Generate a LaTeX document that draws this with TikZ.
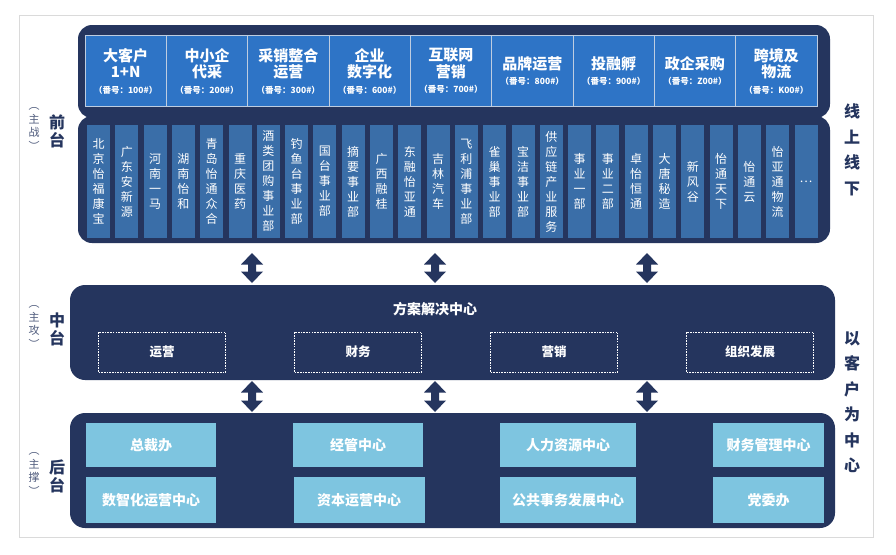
\documentclass[tikz,border=0pt]{standalone}
\usepackage{fontspec}
\setmainfont{Noto Sans CJK SC}
\definecolor{navy}{RGB}{37,53,94}
\definecolor{hdrblue}{RGB}{46,116,198}
\definecolor{colblue}{RGB}{58,110,168}
\definecolor{ltblue}{RGB}{126,197,224}
\definecolor{framegray}{RGB}{218,218,218}
\definecolor{cellline}{RGB}{190,205,225}
\newcommand\subfont{\fontsize{8.5}{10}\selectfont\bfseries}
\begin{document}
\begin{tikzpicture}[x=1pt,y=-1pt,
  panel/.style={draw=none,fill=navy,rounded corners=14pt,inner sep=0pt},
  hdrcell/.style={draw=cellline,line width=0.8pt,fill=hdrblue,minimum width=81.33pt,minimum height=71pt,inner sep=0pt,align=center,text=white,font=\fontsize{15}{16.5}\selectfont\bfseries},
  colbox/.style={fill=colblue,minimum width=23pt,minimum height=113pt,inner sep=0pt,align=center,text=white,font=\fontsize{12}{15}\selectfont},
  dashbox/.style={draw=white,line width=0.9pt,dash pattern=on 1.6pt off 1.1pt,minimum width=127pt,minimum height=40pt,inner sep=0pt,text=white,font=\fontsize{12.5}{14}\selectfont\bfseries},
  backbox/.style={fill=ltblue,inner sep=0pt,text=white,font=\fontsize{14}{16}\selectfont\bfseries},
  sidelabel/.style={text=navy,align=center,inner sep=0pt,font=\fontsize{16}{18}\selectfont\bfseries},
  sidesub/.style={text=navy!80,align=center,inner sep=0pt,font=\fontsize{11}{13.5}\selectfont},
  rightlabel/.style={text=navy,align=center,inner sep=0pt,font=\fontsize{16}{25.5}\selectfont\bfseries}
]
\useasboundingbox (0,0) rectangle (896,554);
\fill[white] (0,0) rectangle (896,554);
\draw[framegray,line width=0.8pt] (19,15) rectangle (873,537);

% ---------- front stage panels ----------
\node[panel,minimum width=752pt,minimum height=93pt] (toppanel) at (454,71.5) {};
\node[panel,minimum width=752pt,minimum height=127pt] (colpanel) at (454,179.5) {};

% header cells
\foreach \t/\s [count=\i from 0] in {
  {大客户\\1+N}/100\#,
  {中小企\\代采}/200\#,
  {采销整合\\运营}/300\#,
  {企业\\数字化}/600\#,
  {互联网\\营销}/700\#,
  {品牌运营}/800\#,
  {投融孵}/900\#,
  {政企采购}/Z00\#,
  {跨境及\\物流}/K00\#}
{
  \node[hdrcell] (h\i) at ({85+81.33*\i+40.67},71) {\t\\[-1pt]{\subfont （番号：\s）}};
}

% columns
\foreach \t [count=\i from 0] in {
  {北\\京\\怡\\福\\康\\宝},
  {广\\东\\安\\新\\源},
  {河\\南\\一\\马},
  {湖\\南\\怡\\和},
  {青\\岛\\怡\\通\\众\\合},
  {重\\庆\\医\\药},
  {酒\\类\\团\\购\\事\\业\\部},
  {钓\\鱼\\台\\事\\业\\部},
  {国\\台\\事\\业\\部},
  {摘\\要\\事\\业\\部},
  {广\\西\\融\\桂},
  {东\\融\\怡\\亚\\通},
  {吉\\林\\汽\\车},
  {飞\\利\\浦\\事\\业\\部},
  {雀\\巢\\事\\业\\部},
  {宝\\洁\\事\\业\\部},
  {供\\应\\链\\产\\业\\服\\务},
  {事\\业\\一\\部},
  {事\\业\\二\\部},
  {卓\\怡\\恒\\通},
  {大\\唐\\秘\\造},
  {新\\风\\谷},
  {怡\\通\\天\\下},
  {怡\\通\\云},
  {怡\\亚\\通\\物\\流},
  {…}}
{
  \node[colbox] (c\i) at ({98.5+28.3*\i},181.5) {\t};
}

% ---------- middle panel ----------
\node[panel,minimum width=765pt,minimum height=95pt,rounded corners=15pt] (midpanel) at (452.5,332.5) {};
\node[text=white,inner sep=0pt,font=\fontsize{14}{16}\selectfont\bfseries] (midtitle) at (435,309) {方案解决中心};
\node[dashbox] (m1) at (162,352) {运营};
\node[dashbox] (m2) at (358,352) {财务};
\node[dashbox] (m3) at (554,352) {营销};
\node[dashbox] (m4) at (750,352) {组织发展};

% ---------- back panel ----------
\node[panel,minimum width=765pt,minimum height=115pt,rounded corners=15pt] (botpanel) at (452.5,470.5) {};
\node[backbox,minimum width=130pt,minimum height=44pt] (b1) at (151,445) {总裁办};
\node[backbox,minimum width=130pt,minimum height=46pt] (b2) at (151,500) {数智化运营中心};
\node[backbox,minimum width=130pt,minimum height=44pt] (b3) at (358,445) {经管中心};
\node[backbox,minimum width=131pt,minimum height=46pt] (b4) at (359,500) {资本运营中心};
\node[backbox,minimum width=136pt,minimum height=44pt] (b5) at (568,445) {人力资源中心};
\node[backbox,minimum width=136pt,minimum height=46pt] (b6) at (568,500) {公共事务发展中心};
\node[backbox,minimum width=111pt,minimum height=44pt] (b7) at (768.5,445) {财务管理中心};
\node[backbox,minimum width=111pt,minimum height=46pt] (b8) at (768.5,500) {党委办};

% ---------- double arrows ----------
\newcommand\dblarr[3]{%
  \fill[navy] (#1,#2) -- (#1+11,#2+11.5) -- (#1+4,#2+11.5) -- (#1+4,#3-11.5) -- (#1+11,#3-11.5)
    -- (#1,#3) -- (#1-11,#3-11.5) -- (#1-4,#3-11.5) -- (#1-4,#2+11.5) -- (#1-11,#2+11.5) -- cycle;}
\foreach \x in {252,435,647} {
  \dblarr{\x}{253}{283}
  \dblarr{\x}{381}{412}
}

% ---------- side labels ----------
\node[sidelabel] (lfront) at (57,131) {前\\台};
\node[sidesub] (sfront) at (34,129) {︵\\主\\战\\︶};
\node[sidelabel] (lmid) at (57,329) {中\\台};
\node[sidesub] (smid) at (34,327) {︵\\主\\攻\\︶};
\node[sidelabel] (lback) at (57,476) {后\\台};
\node[sidesub] (sback) at (34,474) {︵\\主\\撑\\︶};

\node[rightlabel] (ronline) at (852,150) {线\\上\\线\\下};
\node[rightlabel] (rcust) at (852,402) {以\\客\\户\\为\\中\\心};
\end{tikzpicture}
\end{document}
